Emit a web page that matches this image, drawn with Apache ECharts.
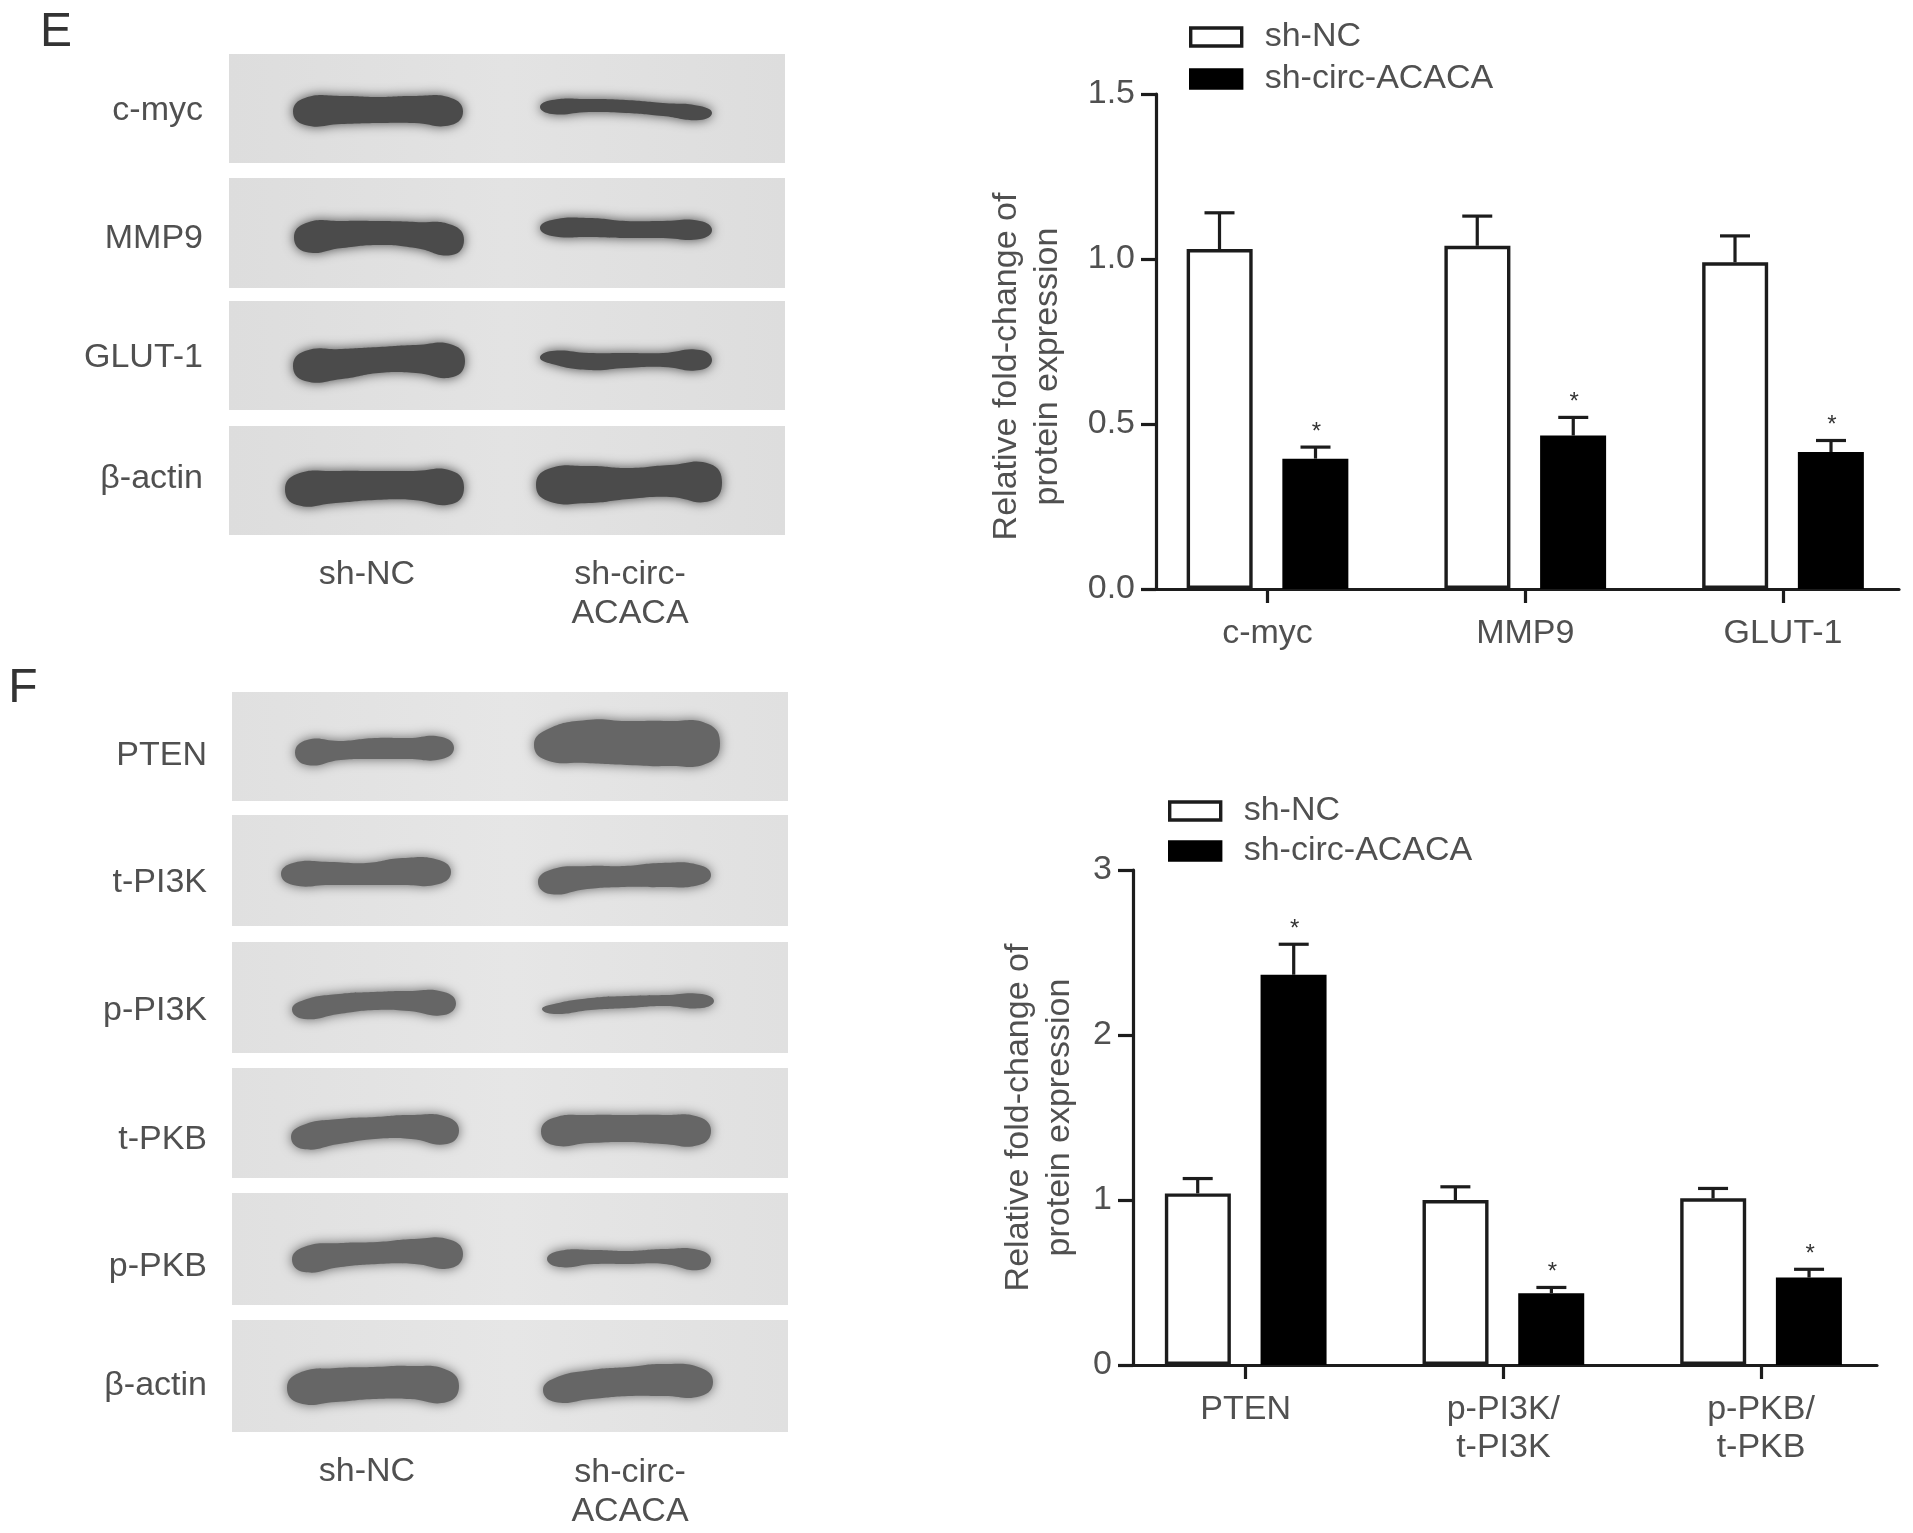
<!DOCTYPE html>
<html><head><meta charset="utf-8">
<style>html,body{margin:0;padding:0;background:#fff}#c{width:1913px;height:1533px}</style>
<script src="https://cdn.jsdelivr.net/npm/echarts@6/dist/echarts.min.js"></script>
</head><body><div id="c"></div>
<script>
// ---- data ----
var legendNames = ['sh-NC', 'sh-circ-ACACA'];
var categoriesE = ['c-myc', 'MMP9', 'GLUT-1'];
var shNC_E = [1.03, 1.04, 0.99];
var shNC_E_upper = [1.14, 1.13, 1.07];
var shCirc_E = [0.395, 0.465, 0.415];
var shCirc_E_upper = [0.43, 0.52, 0.45];
var yTicksE = [0, 0.5, 1.0, 1.5];

var categoriesF = ['PTEN', 'p-PI3K/\nt-PI3K', 'p-PKB/\nt-PKB'];
var shNC_F = [1.04, 1.00, 1.01];
var shNC_F_upper = [1.13, 1.08, 1.07];
var shCirc_F = [2.365, 0.435, 0.53];
var shCirc_F_upper = [2.55, 0.47, 0.58];
var yTicksF = [0, 1, 2, 3];

var yTitle = 'Relative fold-change of\nprotein expression';
var blotLabelsE = ['c-myc', 'MMP9', 'GLUT-1', '\u03b2-actin'];
var blotLabelsF = ['PTEN', 't-PI3K', 'p-PI3K', 't-PKB', 'p-PKB', '\u03b2-actin'];
var laneLabels = ['sh-NC', 'sh-circ-\nACACA'];

// ---- styling and layout ----
var FONT = '"Liberation Sans", Arial, sans-serif';
var TXT = '#505050', INK = '#1c1c1c';
var FS = 34;

// Blot picture: panels [x0,y0,x1,y1]; bands [x0,x1,[tops],[bottoms]]
var panelsE = [[229,54,785,163],[229,178,785,288],[229,301,785,410],[229,426,785,535]];
var bandsE = [
 [293,463,[98,96,97,96,98],[125,124,123,123,125]],
 [540,712,[100,99,100,103,106],[114,112,113,116,120]],
 [294,464,[223,221,221,222,225],[252,248,245,248,255]],
 [540,712,[220,218,221,221,221],[236,237,238,238,239]],
 [293,465,[351,349,347,345,345],[381,379,373,373,377]],
 [540,712,[351,353,353,353,350],[364,370,368,367,370]],
 [285,464,[474,471,471,471,471],[505,503,500,500,504]],
 [536,722,[469,466,468,465,464],[501,503,499,497,501]]
];
var panelsF = [[232,692,788,801],[232,815,788,926],[232,942,788,1053],[232,1068,788,1178],[232,1193,788,1305],[232,1320,788,1432]];
var bandsF = [
 [295,454,[740,741,738,738,737],[765,760,759,759,759]],
 [534,720,[730,720,721,721,724],[760,763,765,766,763]],
 [281,451,[863,862,863,858,860],[885,885,885,885,884]],
 [538,711,[870,866,866,863,865],[894,889,887,887,885]],
 [292,456,[1000,994,992,991,992],[1019,1014,1010,1011,1015]],
 [542,714,[1004,998,996,995,994],[1014,1010,1008,1006,1008]],
 [291,459,[1125,1119,1117,1115,1117],[1149,1144,1139,1139,1144]],
 [541,711,[1118,1115,1115,1115,1117],[1145,1143,1142,1144,1145]],
 [292,463,[1247,1243,1242,1239,1240],[1272,1267,1264,1264,1268]],
 [547,711,[1251,1250,1251,1249,1250],[1267,1264,1264,1264,1270]],
 [287,459,[1373,1368,1367,1366,1370],[1403,1402,1399,1399,1402]],
 [543,713,[1378,1370,1367,1364,1368],[1402,1399,1396,1396,1396]]
];
var labelRowsE = [111,239,358,479], labelRowsF = [756,883,1011,1140,1267,1386];

function bandEl(b, color) {
  var n = b[2].length, pts = [], i;
  var w = b[1] - b[0], inset = 12;
  for (i = 0; i < n; i++) pts.push([b[0] + inset + (w - 2 * inset) * i / (n - 1), b[2][i]]);
  pts.push([b[1], (b[2][n - 1] + b[3][n - 1]) / 2]);
  for (i = n - 1; i >= 0; i--) pts.push([b[0] + inset + (w - 2 * inset) * i / (n - 1), b[3][i]]);
  pts.push([b[0], (b[2][0] + b[3][0]) / 2]);
  return { type: 'polygon', z: 2, shape: { points: pts, smooth: 0.5 },
    style: { fill: color, shadowBlur: 12, shadowColor: color } };
}
function panelEl(p, c0, c1) {
  return { type: 'rect', z: 1, shape: { x: p[0], y: p[1], width: p[2] - p[0], height: p[3] - p[1] },
    style: { fill: new echarts.graphic.LinearGradient(0, 0, 1, 0, [
      { offset: 0, color: c0 }, { offset: 0.5, color: c1 }, { offset: 1, color: c0 }]) } };
}
function textEl(s, x, y, align, size, color) {
  return { type: 'text', z: 3, x: x, y: y,
    style: { text: s, fontFamily: FONT, fontSize: size || FS, fill: color || TXT, align: align || 'center', verticalAlign: 'middle', lineHeight: 39 } };
}
var gfx = [];
panelsE.forEach(function (p) { gfx.push(panelEl(p, '#dddddd', '#e3e3e3')); });
bandsE.forEach(function (b) { gfx.push(bandEl(b, '#4b4b4b')); });
panelsF.forEach(function (p) { gfx.push(panelEl(p, '#e0e0e0', '#e6e6e6')); });
bandsF.forEach(function (b) { gfx.push(bandEl(b, '#666666')); });
blotLabelsE.forEach(function (s, i) { gfx.push(textEl(s, 203, labelRowsE[i], 'right')); });
blotLabelsF.forEach(function (s, i) { gfx.push(textEl(s, 207, labelRowsF[i], 'right')); });
gfx.push(textEl(laneLabels[0], 367, 575));
gfx.push(textEl(laneLabels[1], 630, 594));
gfx.push(textEl(laneLabels[0], 367, 1472));
gfx.push(textEl(laneLabels[1], 630, 1492));
gfx.push(textEl('E', 56, 33, 'center', 48, '#333333'));
gfx.push(textEl('F', 23, 689, 'center', 48, '#333333'));

var OFFSET = 48;
function errSeries(name, idx, means, uppers, dir, star) {
  return {
    type: 'custom', name: name, xAxisIndex: idx, yAxisIndex: idx, clip: false, z: 5,
    encode: { x: 0, y: 2 },
    data: means.map(function (m, i) { return [i, m, uppers[i]]; }),
    renderItem: function (params, api) {
      var base = api.coord([api.value(0), api.value(1)]);
      var top = api.coord([api.value(0), api.value(2)]);
      var x = base[0] + dir * OFFSET, s = { stroke: INK, lineWidth: 3.2 };
      var kids = [
        { type: 'line', shape: { x1: x, y1: base[1], x2: x, y2: top[1] }, style: s },
        { type: 'line', shape: { x1: x - 15, y1: top[1], x2: x + 15, y2: top[1] }, style: s }
      ];
      if (star) kids.push({ type: 'text', x: x + 1, y: top[1] - 15,
        style: { text: '*', fontFamily: FONT, fontSize: 24, fill: '#333', align: 'center', verticalAlign: 'middle' } });
      return { type: 'group', children: kids };
    }
  };
}
function barSeries(name, idx, vals, filled) {
  return {
    type: 'bar', name: name, xAxisIndex: idx, yAxisIndex: idx, z: 4,
    barWidth: 66, barGap: '45%',
    itemStyle: { color: filled ? '#000' : '#fff', borderColor: filled ? '#000' : INK, borderWidth: 3.4 },
    data: vals.map(function (v, i) { return [i, v]; })
  };
}
function xAxis(idx, cats, min, max) {
  var vals = cats.map(function (c, i) { return i; });
  return {
    type: 'value', gridIndex: idx, min: min, max: max, splitLine: { show: false },
    axisLine: { show: true, lineStyle: { color: INK, width: 3.2 } },
    axisTick: { show: true, length: 14, customValues: vals, lineStyle: { color: INK, width: 3.2 } },
    axisLabel: { show: true, customValues: vals, margin: 26, fontFamily: FONT, fontSize: FS, color: TXT, lineHeight: 38, verticalAlign: 'top',
      formatter: function (v) { return cats[v]; } }
  };
}
function yAxis(idx, ticks, dec, gap, shift) {
  return {
    type: 'value', gridIndex: idx, min: ticks[0], max: ticks[ticks.length - 1], interval: ticks[1] - ticks[0],
    splitLine: { show: false },
    axisLine: { show: true, onZero: false, lineStyle: { color: INK, width: 3.2 } },
    axisTick: { show: true, length: 15, lineStyle: { color: INK, width: 3.2 } },
    axisLabel: { margin: 21, fontFamily: FONT, fontSize: FS, color: TXT, formatter: function (v) { return v.toFixed(dec); } },
    name: yTitle, nameLocation: 'middle', nameRotate: 90, nameGap: gap,
    nameTextStyle: { fontFamily: FONT, fontSize: 34, color: TXT, lineHeight: 41, padding: [0, shift, 0, 0] }
  };
}
function legend(left, top, gap) {
  return { left: left, top: top, padding: 0, orient: 'vertical', itemWidth: 51, itemHeight: 18, itemGap: gap,
    data: legendNames, selectedMode: false, icon: 'rect',
    itemStyle: { borderWidth: 3.4 },
    textStyle: { fontFamily: FONT, fontSize: FS, color: TXT, padding: [0, 0, 0, 18] } };
}

var option = {
  animation: false, backgroundColor: '#fff',
  graphic: { elements: gfx },
  legend: [legend(1189, 20, 8), legend(1168, 794, 6)],
  grid: [
    { left: 1156, top: 94, width: 743, height: 495 },
    { left: 1133, top: 870, width: 744, height: 495 }
  ],
  xAxis: [xAxis(0, categoriesE, -0.4326, 2.45), xAxis(1, categoriesF, -0.4374, 2.45)],
  yAxis: [yAxis(0, yTicksE, 1, 88, 50), yAxis(1, yTicksF, 0, 53, 0)],
  series: [
    barSeries(legendNames[0], 0, shNC_E, false),
    barSeries(legendNames[1], 0, shCirc_E, true),
    errSeries('err NC E', 0, shNC_E, shNC_E_upper, -1, false),
    errSeries('err circ E', 0, shCirc_E, shCirc_E_upper, 1, true),
    barSeries(legendNames[0], 1, shNC_F, false),
    barSeries(legendNames[1], 1, shCirc_F, true),
    errSeries('err NC F', 1, shNC_F, shNC_F_upper, -1, false),
    errSeries('err circ F', 1, shCirc_F, shCirc_F_upper, 1, true)
  ]
};
echarts.init(document.getElementById('c')).setOption(option);
</script></body></html>
